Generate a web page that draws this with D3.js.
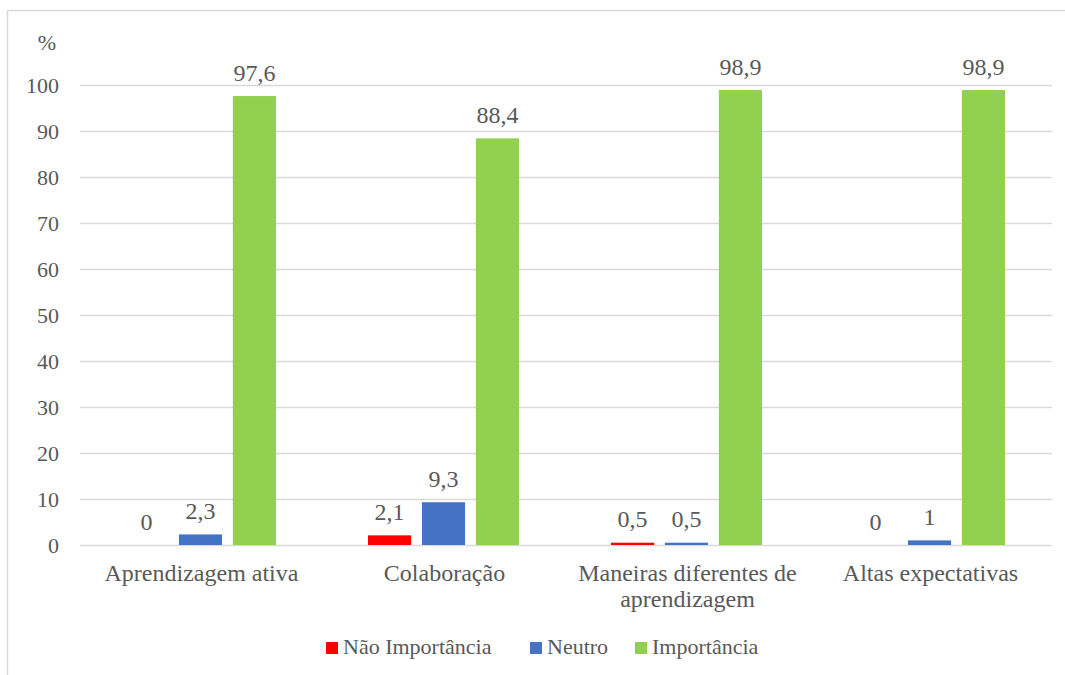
<!DOCTYPE html>
<html>
<head>
<meta charset="utf-8">
<script src="https://cdn.jsdelivr.net/npm/d3@7/dist/d3.min.js"></script>
<style>
  body { margin: 0; background: #fff; }
</style>
</head>
<body>
<svg id="chart" width="1065" height="675"></svg>
<script>
const categories = [["Aprendizagem ativa"], ["Colaboração"], ["Maneiras diferentes de", "aprendizagem"], ["Altas expectativas"]];
const seriesNames = ["Não Importância", "Neutro", "Importância"];
const seriesColors = ["#FF0000", "#4472C4", "#92D050"];
const naoImportancia = [0, 2.1, 0.5, 0];
const neutro = [2.3, 9.3, 0.5, 1];
const importancia = [97.6, 88.4, 98.9, 98.9];
const yTicks = [0, 10, 20, 30, 40, 50, 60, 70, 80, 90, 100];

const values = [naoImportancia, neutro, importancia];
const svg = d3.select("#chart");
const textColor = "#595959";
const serif = '"Liberation Serif"';

// outer frame
svg.append("path").attr("d", "M7.5,675 L7.5,10.5 L1065,10.5")
  .attr("fill", "none").attr("stroke", "#d9d9d9").attr("stroke-width", 1.5);

const plotLeft = 80, plotRight = 1052, plotTop = 85, plotBottom = 545;
const y = d3.scaleLinear().domain([0, 100]).range([plotBottom, plotTop]);
const x0 = d3.scaleBand().domain(d3.range(categories.length)).range([plotLeft, plotRight]);
const x1 = d3.scaleBand().domain(d3.range(seriesNames.length))
  .range([45, x0.bandwidth() - 47]).paddingInner(0.2);

// grid
svg.append("g").selectAll("line").data(yTicks).join("line")
  .attr("x1", plotLeft).attr("x2", plotRight)
  .attr("y1", d => y(d) + 0.5).attr("y2", d => y(d) + 0.5)
  .attr("stroke", "#d9d9d9").attr("stroke-width", 1.5);

// y axis labels
const yAxis = svg.append("g").attr("transform", "translate(59,0)")
  .call(d3.axisLeft(y).tickValues(yTicks).tickSize(0).tickPadding(0));
yAxis.select(".domain").remove();
yAxis.selectAll("text").attr("fill", textColor).attr("dy", "0.35em")
  .style("font-family", serif).style("font-size", "22px");

svg.append("text").attr("x", 47).attr("y", 50).attr("text-anchor", "middle")
  .style("font-family", serif).style("font-size", "22px")
  .attr("fill", textColor).text("%");

// bars
const groups = svg.append("g").selectAll("g").data(categories).join("g")
  .attr("transform", (d, i) => `translate(${x0(i)},0)`);

groups.each(function(c, ci) {
  const g = d3.select(this);
  seriesNames.forEach((s, si) => {
    const v = values[si][ci];
    g.append("rect")
      .attr("x", x1(si)).attr("width", x1.bandwidth())
      .attr("y", y(v)).attr("height", y(0) - y(v))
      .attr("fill", seriesColors[si]);
    g.append("text")
      .attr("x", x1(si) + x1.bandwidth() / 2).attr("y", y(v) - 15.5)
      .attr("text-anchor", "middle").attr("fill", textColor)
      .style("font-family", serif).style("font-size", "24px")
      .text(String(v).replace(".", ","));
  });
  const t = g.append("text").attr("text-anchor", "middle").attr("fill", textColor)
    .style("font-family", serif).style("font-size", "24px");
  c.forEach((line, li) => {
    t.append("tspan").attr("x", x0.bandwidth() / 2).attr("y", 581 + li * 26).text(line);
  });
});

// legend
const legendX = [326, 530, 635];
const legend = svg.append("g").selectAll("g").data(seriesNames).join("g")
  .attr("transform", (d, i) => `translate(${legendX[i]},642)`);
legend.append("rect").attr("width", 12).attr("height", 12).attr("fill", (d, i) => seriesColors[i]);
legend.append("text").attr("x", 17).attr("y", 12).attr("fill", textColor)
  .style("font-family", serif).style("font-size", "22px").text(d => d);
</script>
</body>
</html>
